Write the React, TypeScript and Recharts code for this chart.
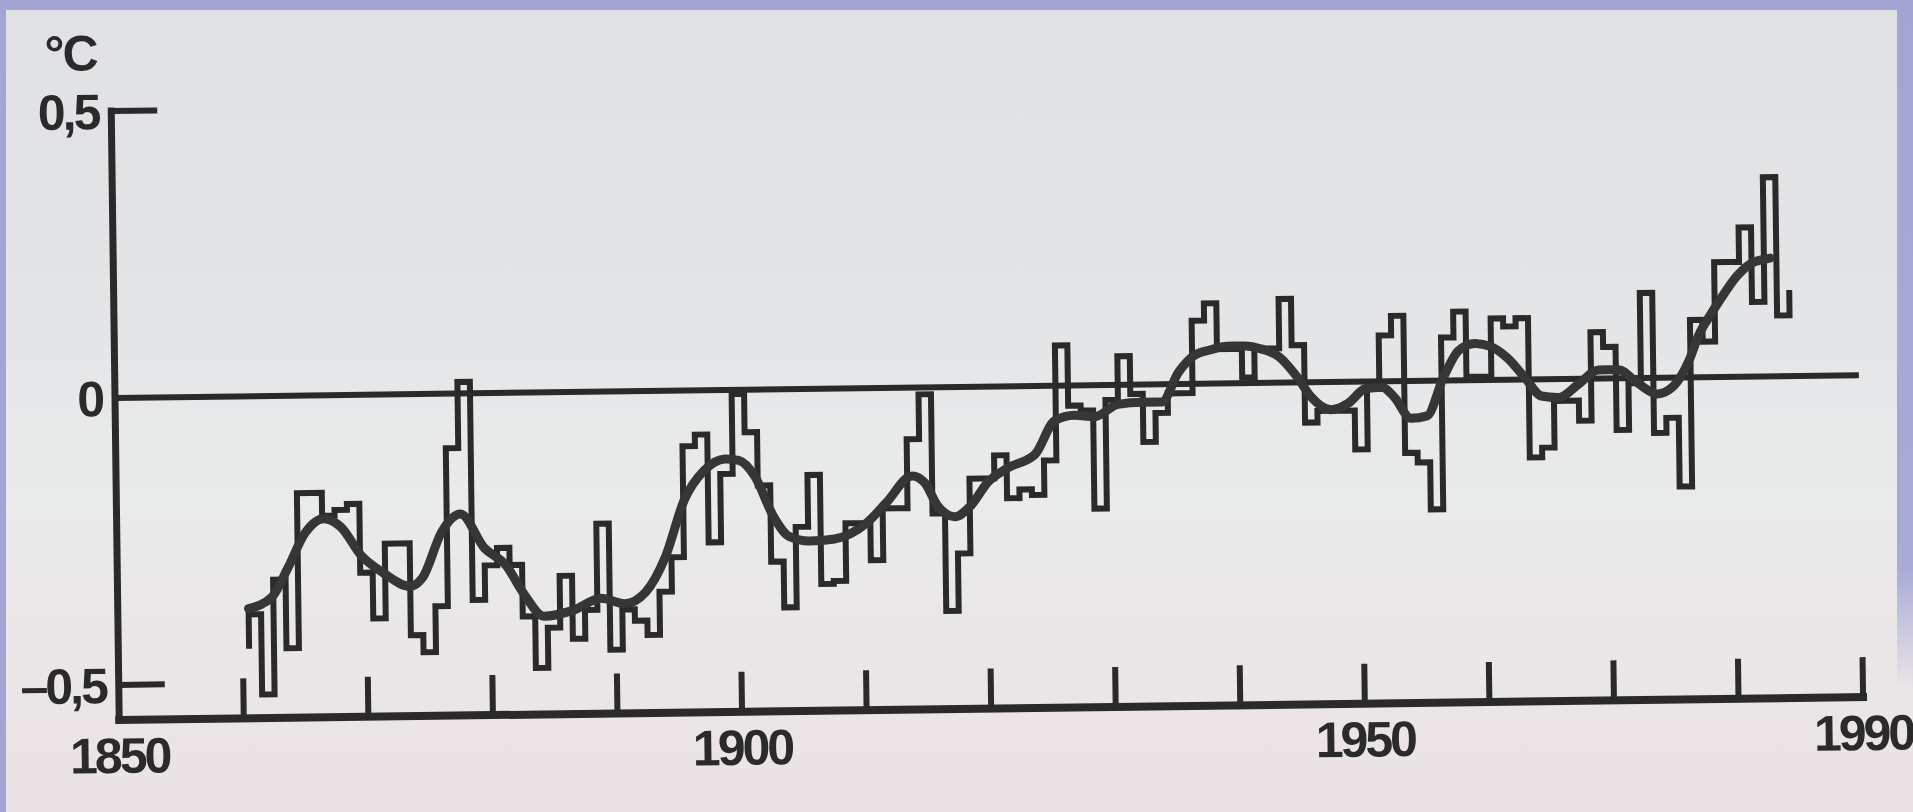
/**
 * Global temperature anomaly 1861-1985: annual steps plus smoothed curve
 * Scanned-figure look, drawn with Recharts
 */
import { LineChart, Line, XAxis, YAxis, ReferenceLine } from 'recharts';

const INK = '#2a2a2a';
const FONT = "'Liberation Sans', Arial, sans-serif";

// annual anomaly (°C), one value per year starting at ANNUAL_FIRST_YEAR
const ANNUAL_FIRST_YEAR = 1861;
const annualAnomaly = [
  -0.38, -0.52, -0.32, -0.44, -0.17, -0.17, -0.21, -0.2, -0.19, -0.31,
  -0.39, -0.26, -0.26, -0.42, -0.45, -0.37, -0.095, 0.02, -0.36, -0.3,
  -0.27, -0.3, -0.39, -0.48, -0.41, -0.32, -0.43, -0.38, -0.23, -0.45,
  -0.38, -0.4, -0.425, -0.35, -0.29, -0.097, -0.077, -0.265, -0.146, -0.007,
  -0.074, -0.167, -0.3, -0.38, -0.24, -0.15, -0.34, -0.335, -0.235, -0.235,
  -0.3, -0.21, -0.21, -0.09, -0.012, -0.22, -0.39, -0.29, -0.16, -0.16,
  -0.12, -0.195, -0.18, -0.19, -0.13, 0.07, -0.035, -0.044, -0.215, -0.026,
  0.05, -0.016, -0.1, -0.05, -0.016, -0.016, 0.11, 0.14, 0.06, 0.06,
  0.01, 0.06, 0.06, 0.146, 0.065, -0.07, -0.05, -0.05, -0.05, -0.118,
  -0.013, 0.08, 0.114, -0.125, -0.142, -0.224, 0.075, 0.12, 0.006, 0.006,
  0.107, 0.093, 0.107, -0.136, -0.119, -0.038, -0.038, -0.073, 0.081, 0.055,
  -0.09, -0.009, 0.148, -0.096, -0.07, -0.19, 0.1, 0.062, 0.2, 0.2,
  0.26, 0.13, 0.347, 0.106, 0.15,
];
// lower end of the short opening edge of the step trace
const openingEdge = -0.44;

// smoothed curve, read at these years
const smoothYears = [
  1860.5, 1862.4, 1863.7, 1865.1, 1866.6, 1868.0, 1869.6, 1871.3, 1873.5, 1874.5,
  1876.1, 1877.6, 1879.5, 1881.2, 1882.6, 1884.2, 1886.6, 1888.8, 1890.7, 1892.4,
  1894.0, 1895.6, 1897.2, 1898.9, 1900.0, 1901.3, 1902.7, 1904.0, 1905.6, 1907.6,
  1910.2, 1911.8, 1913.9, 1914.9, 1915.9, 1917.3, 1918.5, 1920.0, 1921.6, 1923.8,
  1925.4, 1927.0, 1928.6, 1930.5, 1932.4, 1934.0, 1935.4, 1936.7, 1938.0, 1939.3,
  1940.7, 1942.1, 1943.5, 1944.9, 1946.0, 1947.6, 1949.0, 1950.4, 1951.7, 1952.7,
  1954.0, 1955.3, 1956.6, 1957.9, 1959.2, 1960.5, 1961.8, 1963.2, 1964.5, 1965.9,
  1967.5, 1969.1, 1970.7, 1972.2, 1973.8, 1975.1, 1976.4, 1977.2, 1978.2, 1979.3,
  1980.3, 1981.4, 1982.5, 1983.0,
];
const smoothAnomaly = [
  -0.37, -0.35, -0.3, -0.24, -0.215, -0.23, -0.28, -0.31, -0.335, -0.32,
  -0.24, -0.21, -0.27, -0.3, -0.35, -0.39, -0.38, -0.36, -0.37, -0.35,
  -0.29, -0.19, -0.14, -0.12, -0.123, -0.152, -0.22, -0.257, -0.265, -0.262,
  -0.235, -0.2, -0.154, -0.166, -0.206, -0.226, -0.209, -0.166, -0.142, -0.119,
  -0.061, -0.052, -0.055, -0.034, -0.031, -0.031, 0.021, 0.05, 0.059, 0.065,
  0.065, 0.059, 0.045, 0.01, -0.025, -0.048, -0.037, -0.012, -0.01, -0.028,
  -0.065, -0.061, 0.003, 0.052, 0.064, 0.058, 0.038, 0.003, -0.029, -0.032,
  -0.009, 0.015, 0.015, -0.008, -0.028, -0.015, 0.03, 0.074, 0.11, 0.146,
  0.175, 0.196, 0.204, 0.206,
];

const xTicks = [1850, 1860, 1870, 1880, 1890, 1900, 1910, 1920, 1930, 1940, 1950, 1960, 1970, 1980, 1990];
const xLabels = [1850, 1900, 1950, 1990];
const yTicks = [-0.5, 0, 0.5];

// stepAfter: each year is drawn from its start edge (year - 0.5)
const annualRows = [
  { x: ANNUAL_FIRST_YEAR - 0.5, annual: openingEdge },
  ...annualAnomaly.map((v, i) => ({ x: ANNUAL_FIRST_YEAR + i - 0.5, annual: v })),
];
const smoothRows = smoothYears.map((x, i) => ({ x, smooth: smoothAnomaly[i] }));

const labelStyle = {
  fontFamily: FONT,
  fontWeight: 700,
  fontSize: 50,
  letterSpacing: -3,
  fill: INK,
};

function YearTick(props: any) {
  const { x, y, payload } = props;
  const v = payload.value;
  return (
    <g>
      {v !== 1850 && <line x1={x} x2={x} y1={y} y2={y - 40} stroke={INK} strokeWidth={6} />}
      {xLabels.includes(v) && (
        <text x={x} y={y + 53} textAnchor="middle" {...labelStyle}>
          {v}
        </text>
      )}
    </g>
  );
}

function formatAnomaly(v: number) {
  if (v === 0) return '0';
  return (v < 0 ? '–' : '') + Math.abs(v).toFixed(1).replace('.', ',');
}

function AnomalyTick(props: any) {
  const { x, y, payload } = props;
  const v = payload.value;
  return (
    <g>
      {v !== 0 && <line x1={x} x2={x + 46} y1={y} y2={y} stroke={INK} strokeWidth={6} />}
      <text x={x - 13} y={y + 18} textAnchor="end" {...labelStyle}>
        {formatAnomaly(v)}
      </text>
    </g>
  );
}

export default function App() {
  return (
    <div
      style={{
        position: 'absolute',
        left: 0,
        top: 0,
        width: 1913,
        height: 812,
        overflow: 'hidden',
        background:
          'linear-gradient(180deg, #dfe1e4 0%, #e3e5e7 40%, #e9ebeb 60%, #ebe6e7 80%, #eae3e5 100%)',
      }}
    >
      {/* slide border around the scan */}
      <div style={{ position: 'absolute', left: 0, top: 0, width: 1913, height: 10, background: '#a4a5d4' }} />
      <div style={{ position: 'absolute', left: 0, top: 0, width: 6, height: 812, background: '#a4a5d4' }} />
      <div
        style={{
          position: 'absolute',
          right: 0,
          top: 0,
          width: 16,
          height: 812,
          background: 'linear-gradient(180deg, #a4a5d4 0%, #a9aad6 70%, rgba(200,200,225,0) 85%)',
        }}
      />

      <div
        style={{
          position: 'absolute',
          left: 0,
          top: 0,
          width: 1913,
          height: 812,
          transform: 'rotate(-0.75deg)',
          transformOrigin: '115px 398px',
        }}
      >
        <div
          style={{
            position: 'absolute',
            left: 49,
            top: 23,
            fontFamily: FONT,
            fontWeight: 700,
            fontSize: 50,
            letterSpacing: -2,
            color: INK,
            lineHeight: '60px',
          }}
        >
          °C
        </div>
        <LineChart width={1913} height={812} margin={{ top: 111, right: 54, bottom: 0, left: 0 }}>
          <XAxis
            type="number"
            dataKey="x"
            domain={[1850, 1990]}
            allowDataOverflow
            ticks={xTicks}
            interval={0}
            height={92}
            tickSize={0}
            tickMargin={0}
            tickLine={false}
            axisLine={{ stroke: INK, strokeWidth: 8, strokeLinecap: 'square' }}
            tick={(p: any) => <YearTick {...p} />}
          />
          <YAxis
            type="number"
            domain={[-0.561, 0.5]}
            allowDataOverflow
            ticks={yTicks}
            interval={0}
            width={115}
            tickSize={0}
            tickMargin={0}
            tickLine={false}
            axisLine={{ stroke: INK, strokeWidth: 7, strokeLinecap: 'square' }}
            tick={(p: any) => <AnomalyTick {...p} />}
          />
          <ReferenceLine y={0} stroke={INK} strokeWidth={6} ifOverflow="visible" />
          <Line
            data={annualRows}
            dataKey="annual"
            type="stepAfter"
            stroke={INK}
            strokeWidth={6}
            dot={false}
            activeDot={false}
            isAnimationActive={false}
          />
          <Line
            data={smoothRows}
            dataKey="smooth"
            type="monotone"
            stroke="#363636"
            strokeWidth={9}
            strokeLinecap="round"
            dot={false}
            activeDot={false}
            isAnimationActive={false}
          />
        </LineChart>
      </div>
    </div>
  );
}
